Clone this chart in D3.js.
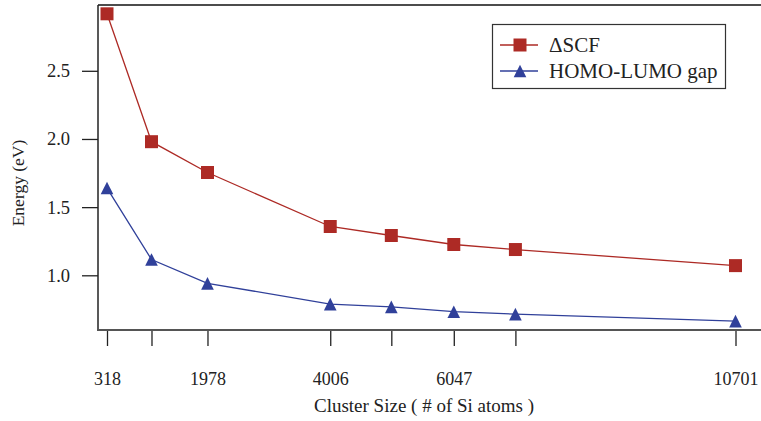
<!DOCTYPE html>
<html>
<head>
<meta charset="utf-8">
<script src="https://cdn.jsdelivr.net/npm/d3@7"></script>
<style>
  html, body { margin: 0; padding: 0; background: #fff; }
</style>
</head>
<body>
<script>
"use strict";

// cluster sizes (number of Si atoms)
const clusterSizes = [318, 1053, 1978, 4006, 5015, 6047, 7065, 10701];
const labeledSizes = [318, 1978, 4006, 6047, 10701];
const deltaSCF = [2.918, 1.98, 1.754, 1.358, 1.292, 1.226, 1.189, 1.071];
const homoLumo = [1.640, 1.116, 0.941, 0.789, 0.768, 0.733, 0.715, 0.664];
const yTicks = [1.0, 1.5, 2.0, 2.5];
const seriesNames = ["\u0394SCF", "HOMO-LUMO gap"];

(function(){
    const measurements = {
        width: 761,
        height: 421,
        left: 98,
        top: 5,
        bottom: 330
    }
    const red = "#ad2a25";
    const blue = "#30409a";
    const serif = "'Liberation Serif', 'DejaVu Serif', serif";

    const svg = d3.select("body").append("svg")
        .attr("width", measurements.width)
        .attr("height", measurements.height)
        .style("font-family", serif);

    // x is linear; 318 sits at 107, 10701 at 735.5
    const scaleX = d3.scaleLinear()
        .domain([318, 10701])
        .range([107, 735.5]);

    const scaleY = d3.scaleLinear()
        .domain([1.0, 2.5])
        .range([275.3, 70.8]);

    // triangle centered on its bounding box
    const triBox = {
        draw(ctx, size) {
            const s = Math.sqrt(size);
            ctx.moveTo(0, -s / 2);
            ctx.lineTo(s / 2, s / 2);
            ctx.lineTo(-s / 2, s / 2);
            ctx.closePath();
        }
    };

    // frame: top line, left spine, bottom spine
    svg.append("line")
        .attr("x1", measurements.left).attr("x2", measurements.width)
        .attr("y1", measurements.top).attr("y2", measurements.top)
        .attr("stroke", "#111").attr("stroke-width", 1.5);
    svg.append("line")
        .attr("x1", measurements.left).attr("x2", measurements.left)
        .attr("y1", measurements.top).attr("y2", measurements.bottom)
        .attr("stroke", "#222").attr("stroke-width", 1.5);
    svg.append("line")
        .attr("x1", measurements.left - 1).attr("x2", measurements.width)
        .attr("y1", measurements.bottom).attr("y2", measurements.bottom)
        .attr("stroke", "#555").attr("stroke-width", 2);

    // y axis
    const yAxis = d3.axisLeft(scaleY)
        .tickValues(yTicks)
        .tickSize(16)
        .tickPadding(12)
        .tickFormat(d3.format(".1f"));
    const gy = svg.append("g")
        .attr("transform", "translate(" + measurements.left + ",0)")
        .call(yAxis);
    gy.select(".domain").remove();
    gy.selectAll(".tick line").attr("stroke", "#222").attr("stroke-width", 1.3);
    gy.selectAll(".tick text")
        .style("font-family", serif)
        .style("font-size", "18.5px")
        .attr("fill", "#222");

    // x axis: ticks hang below the spine, only some labelled
    const xAxis = d3.axisBottom(scaleX)
        .tickValues(clusterSizes)
        .tickSize(15)
        .tickPadding(26)
        .tickFormat((d) => labeledSizes.includes(d) ? d : "");
    const gx = svg.append("g")
        .attr("transform", "translate(0," + (measurements.bottom + 1) + ")")
        .call(xAxis);
    gx.select(".domain").remove();
    gx.selectAll(".tick line").attr("stroke", "#222").attr("stroke-width", 1.3);
    gx.selectAll(".tick text")
        .style("font-family", serif)
        .style("font-size", "18px")
        .attr("fill", "#222");

    // series
    const series = [
        { name: seriesNames[0], values: deltaSCF, color: red, symbol: d3.symbolSquare, size: 169 },
        { name: seriesNames[1], values: homoLumo, color: blue, symbol: triBox, size: 160 }
    ];

    const line = d3.line()
        .x((d) => scaleX(d[0]))
        .y((d) => scaleY(d[1]));

    series.forEach((s, k) => {
        const pts = clusterSizes.map((c, i) => [c, s.values[i]]);
        svg.append("path")
            .datum(pts)
            .attr("d", line)
            .attr("fill", "none")
            .attr("stroke", s.color)
            .attr("stroke-width", 1.3);
        svg.selectAll(".pt" + k)
            .data(pts)
            .enter()
            .append("path")
            .attr("class", "pt" + k)
            .attr("transform", (d) => "translate(" + scaleX(d[0]) + "," + scaleY(d[1]) + ")")
            .attr("d", d3.symbol().type(s.symbol).size(s.size))
            .attr("fill", s.color);
    });

    // legend
    const legend = svg.append("g");
    legend.append("rect")
        .attr("x", 492.5).attr("y", 24.5)
        .attr("width", 233).attr("height", 64)
        .attr("fill", "#fff")
        .attr("stroke", "#333")
        .attr("stroke-width", 1.2);
    series.forEach((s, i) => {
        const y = 45 + i * 26;
        legend.append("line")
            .attr("x1", 500).attr("x2", 538)
            .attr("y1", y).attr("y2", y)
            .attr("stroke", s.color).attr("stroke-width", 1.3);
        legend.append("path")
            .attr("transform", "translate(520," + y + ")")
            .attr("d", d3.symbol().type(s.symbol).size(s.size))
            .attr("fill", s.color);
        legend.append("text")
            .attr("x", 549).attr("y", y)
            .attr("dy", "0.35em")
            .style("font-family", serif)
            .style("font-size", "21px")
            .attr("fill", "#222")
            .text(s.name);
    });

    // axis titles
    svg.append("text")
        .attr("x", 424).attr("y", 411.5)
        .attr("text-anchor", "middle")
        .style("font-family", serif)
        .style("font-size", "19px")
        .attr("fill", "#222")
        .text("Cluster Size ( # of Si atoms )");

    svg.append("text")
        .attr("transform", "translate(23.5,183)rotate(-90)")
        .attr("text-anchor", "middle")
        .style("font-family", serif)
        .style("font-size", "17.5px")
        .attr("fill", "#222")
        .text("Energy (eV)");
})()
</script>
</body>
</html>
